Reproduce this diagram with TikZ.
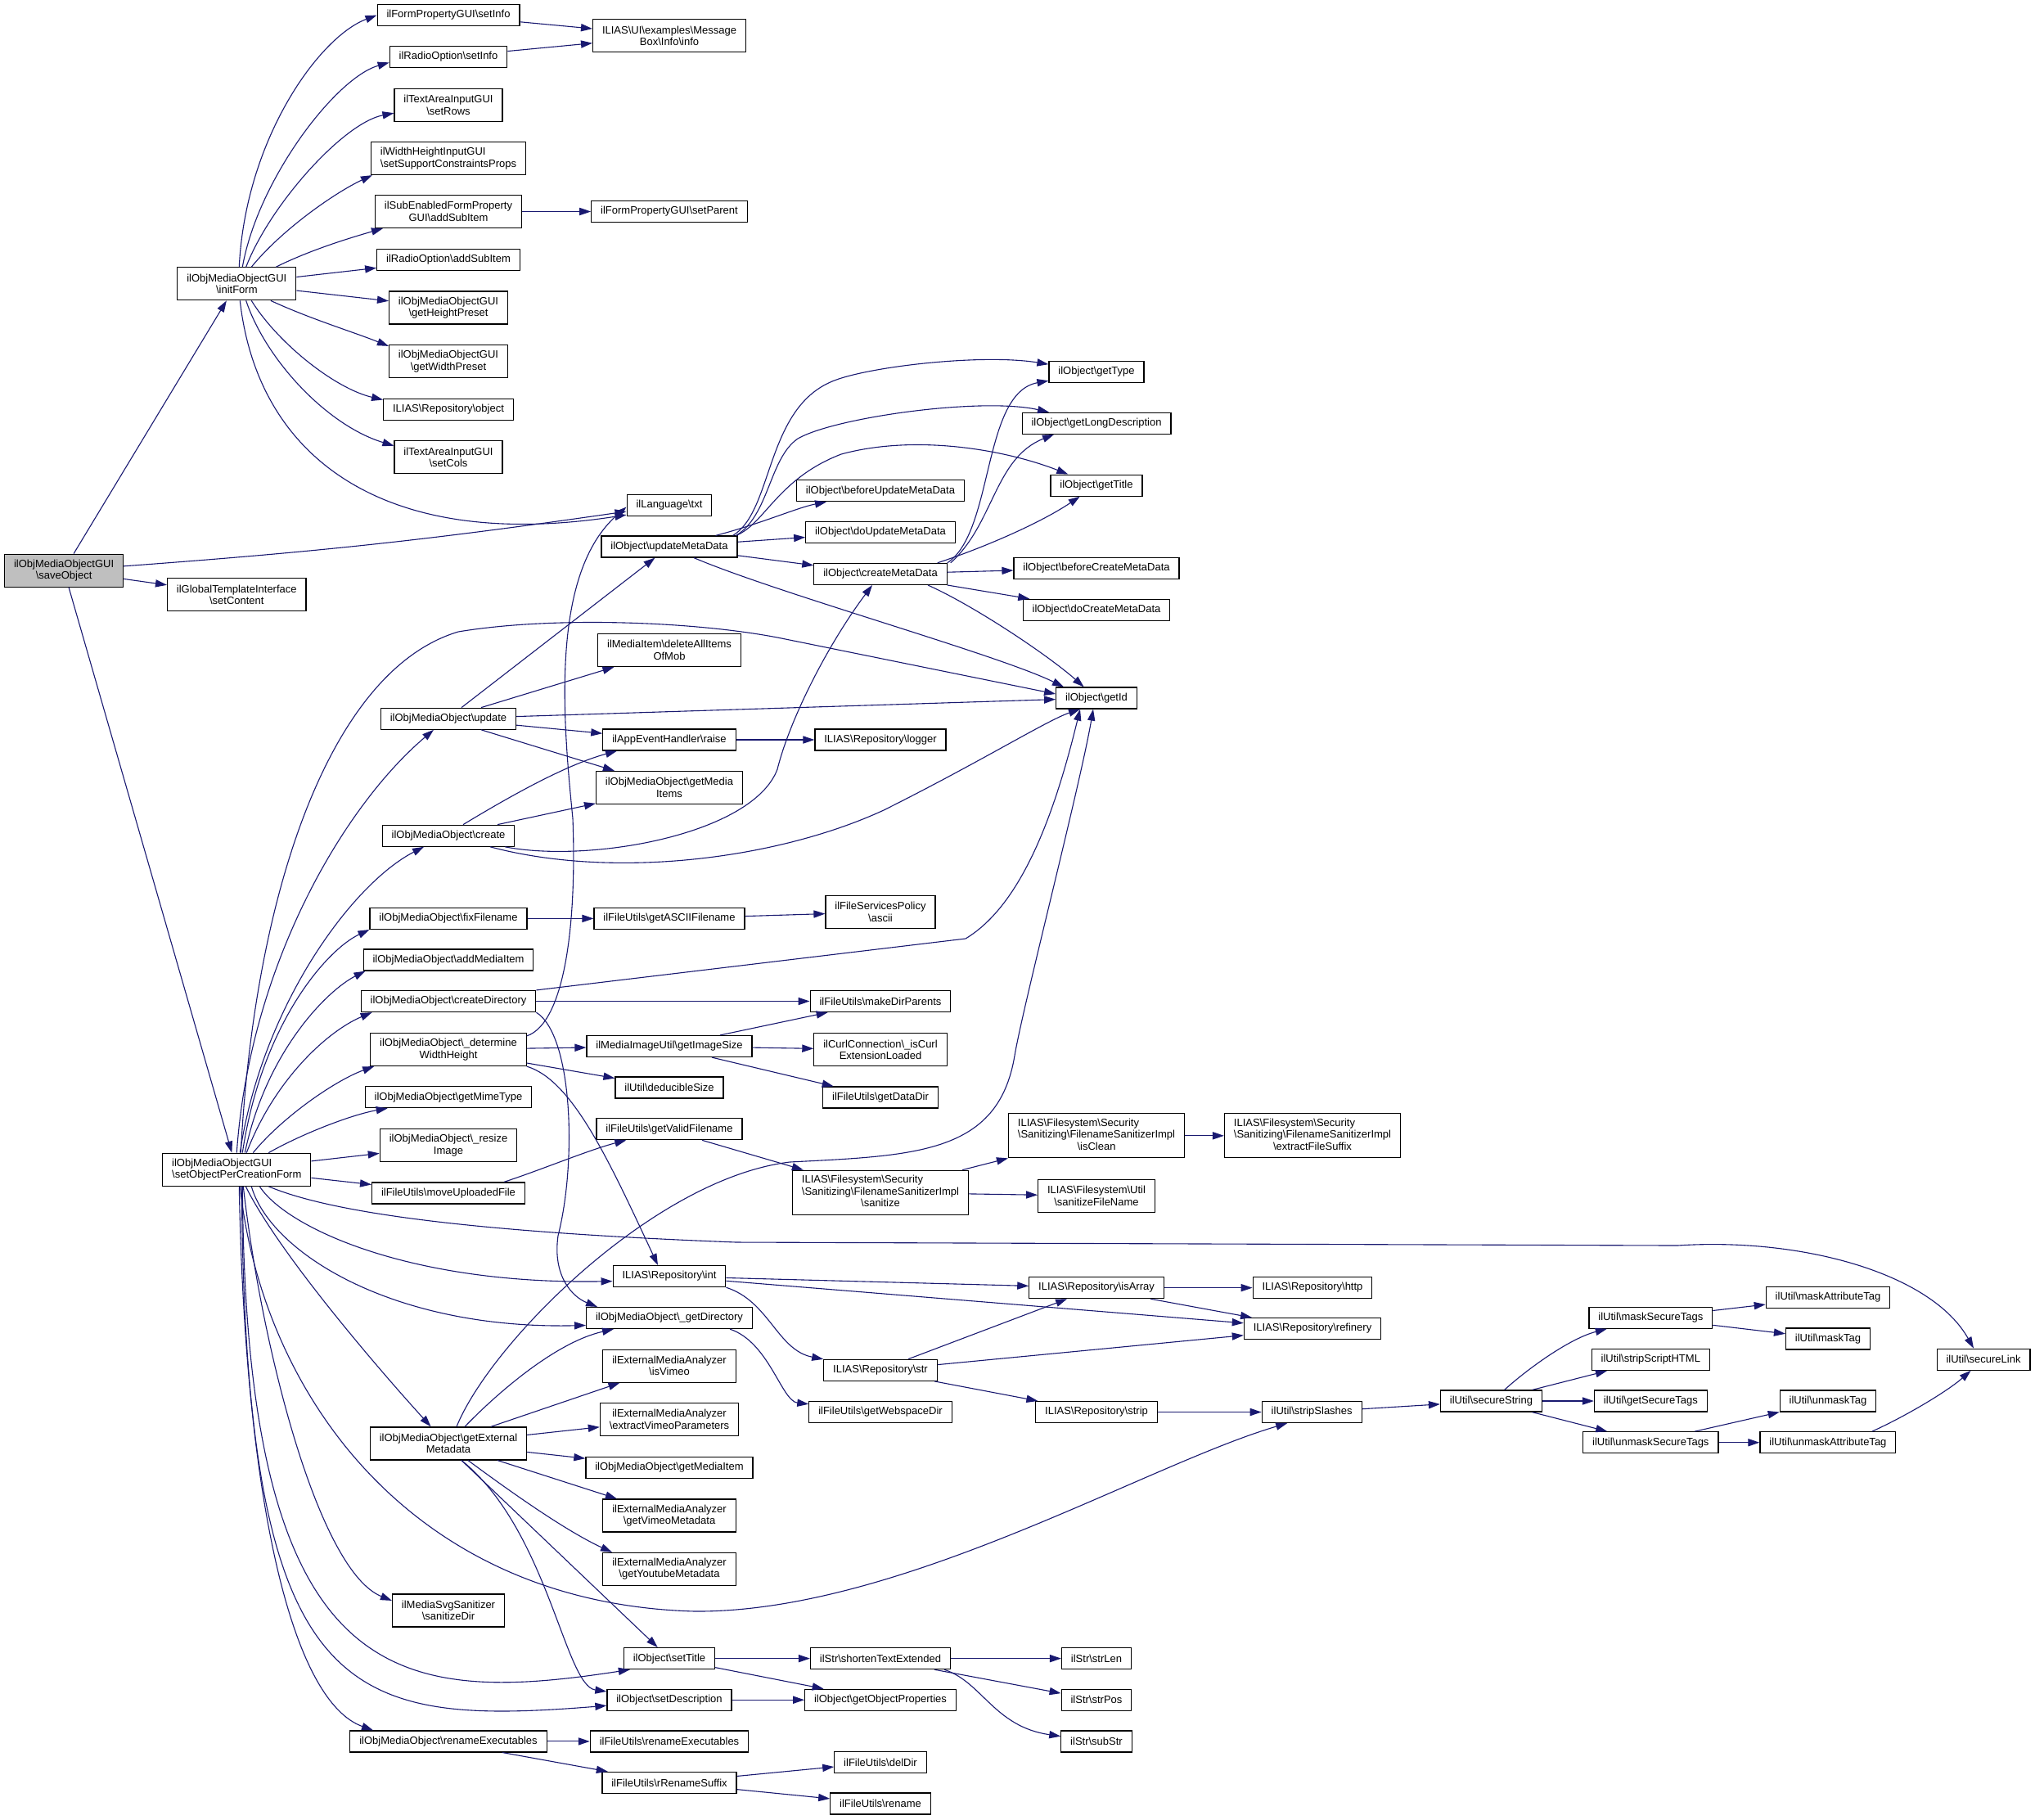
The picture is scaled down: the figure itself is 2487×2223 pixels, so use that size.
\documentclass[tikz,border=0pt]{standalone}
\usepackage{fontspec}
\setmainfont{Liberation Sans}
\usepackage{xcolor}
\usetikzlibrary{positioning}
\usetikzlibrary{arrows.meta}
\definecolor{edgeblue}{HTML}{191970}
\newcommand{\bsl}{\textbackslash}
\newcommand{\sanImpl}[1]{\begin{tabular}{@{}l@{}}ILIAS\bsl Filesystem\bsl Security\\\bsl Sanitizing\bsl FilenameSanitizerImpl\\\multicolumn{1}{@{}c@{}}{\bsl #1}\end{tabular}}

\begin{document}
\begin{tikzpicture}[x=0.5pt,y=-0.5pt,on grid,
  func/.style={draw=black,fill=white,line width=0.6pt,inner xsep=5.7pt,inner ysep=0pt,minimum height=13pt,align=center,font=\fontsize{6.5}{7.2}\selectfont},
  func2/.style={func,minimum height=20pt},
  func3/.style={func,minimum height=27pt},
  rootfunc/.style={fill=gray!50},
  calls/.style={->,color=edgeblue,line width=0.55pt},
  >={Triangle[length=7pt,width=4.6pt]}]
  \useasboundingbox (0,0) rectangle (2487,2223);

  \node[func2,rootfunc] (saveObj) at (78.1,697.1) {ilObjMediaObjectGUI\\\bsl saveObject};
  \node[func2] (initForm) at (289.3,346.8) {ilObjMediaObjectGUI\\\bsl initForm};
  \node[func2] (setContent) at (289.3,726.8) {ilGlobalTemplateInterface\\\bsl setContent};
  \node[func2,align=left] (perCreation) at (289.3,1429.2) {ilObjMediaObjectGUI\\\bsl setObjectPerCreationForm};

  \node[func] (setInfo) at (548,18.6) {ilFormPropertyGUI\bsl setInfo};
  \node[func] (radioSetInfo) at (548,69.4) {ilRadioOption\bsl setInfo};
  \node[func2] (setRows) at (548,128.2) {ilTextAreaInputGUI\\\bsl setRows};
  \node[func2,align=left] (setSupport) at (548,193.5) {ilWidthHeightInputGUI\\\bsl setSupportConstraintsProps};
  \node[func2] (subEnabled) at (548,258.5) {ilSubEnabledFormProperty\\GUI\bsl addSubItem};
  \node[func] (radioAddSub) at (548,317.4) {ilRadioOption\bsl addSubItem};
  \node[func2] (heightPreset) at (548,376) {ilObjMediaObjectGUI\\\bsl getHeightPreset};
  \node[func2] (widthPreset) at (548,441.5) {ilObjMediaObjectGUI\\\bsl getWidthPreset};
  \node[func] (repoObject) at (548,500.1) {ILIAS\bsl Repository\bsl object};
  \node[func2] (setCols) at (548,558.7) {ilTextAreaInputGUI\\\bsl setCols};
  \node[func] (update) at (548,878.2) {ilObjMediaObject\bsl update};
  \node[func] (create) at (548,1021.2) {ilObjMediaObject\bsl create};
  \node[func] (fixFilename) at (548,1122.4) {ilObjMediaObject\bsl fixFilename};
  \node[func] (addMediaItem) at (548,1173) {ilObjMediaObject\bsl addMediaItem};
  \node[func] (createDir) at (548,1223.5) {ilObjMediaObject\bsl createDirectory};
  \node[func2] (determine) at (548,1282.5) {ilObjMediaObject\bsl\_determine\\WidthHeight};
  \node[func] (mimeType) at (548,1340.7) {ilObjMediaObject\bsl getMimeType};
  \node[func2] (resize) at (548,1399.8) {ilObjMediaObject\bsl\_resize\\Image};
  \node[func] (moveUpload) at (548,1457.9) {ilFileUtils\bsl moveUploadedFile};
  \node[func2] (extMeta) at (548,1763.9) {ilObjMediaObject\bsl getExternal\\Metadata};
  \node[func2] (svgSanitize) at (548,1967.9) {ilMediaSvgSanitizer\\\bsl sanitizeDir};
  \node[func] (renameExec) at (548,2127.9) {ilObjMediaObject\bsl renameExecutables};

  \node[func2] (info) at (818,43.8) {ILIAS\bsl UI\bsl examples\bsl Message\\Box\bsl Info\bsl info};
  \node[func] (setParent) [right=135pt of subEnabled] {ilFormPropertyGUI\bsl setParent};
  \node[func] (txt) at (818,617.5) {ilLanguage\bsl txt};
  \node[func] (updateMeta) at (818,668) {ilObject\bsl updateMetaData};
  \node[func2] (deleteAll) at (818,794.5) {ilMediaItem\bsl deleteAllItems\\OfMob};
  \node[func] (raise) at (818,904) {ilAppEventHandler\bsl raise};
  \node[func2] (mediaItems) at (818,962.4) {ilObjMediaObject\bsl getMedia\\Items};
  \node[func] (asciiName) [right=135pt of fixFilename] {ilFileUtils\bsl getASCIIFilename};
  \node[func] (imageSize) at (818,1278.5) {ilMediaImageUtil\bsl getImageSize};
  \node[func] (deducible) at (818,1329) {ilUtil\bsl deducibleSize};
  \node[func] (validName) at (818,1379.7) {ilFileUtils\bsl getValidFilename};
  \node[func] (repoInt) at (818,1559.6) {ILIAS\bsl Repository\bsl int};
  \node[func] (getDir) at (818,1610.5) {ilObjMediaObject\bsl\_getDirectory};
  \node[func2] (isVimeo) at (818,1669.1) {ilExternalMediaAnalyzer\\\bsl isVimeo};
  \node[func2] (extractVimeo) at (818,1734.5) {ilExternalMediaAnalyzer\\\bsl extractVimeoParameters};
  \node[func] (mediaItem) at (818,1793.3) {ilObjMediaObject\bsl getMediaItem};
  \node[func2] (vimeoMeta) at (818,1852) {ilExternalMediaAnalyzer\\\bsl getVimeoMetadata};
  \node[func2] (youtubeMeta) at (818,1917.4) {ilExternalMediaAnalyzer\\\bsl getYoutubeMetadata};
  \node[func] (setTitle) at (818,2026.6) {ilObject\bsl setTitle};
  \node[func] (setDesc) at (818,2077.2) {ilObject\bsl setDescription};
  \node[func] (fuRenameExec) [right=135pt of renameExec] {ilFileUtils\bsl renameExecutables};
  \node[func] (renameSuffix) at (818,2178.4) {ilFileUtils\bsl rRenameSuffix};

  \node[func] (beforeUpdate) at (1076,599.8) {ilObject\bsl beforeUpdateMetaData};
  \node[func] (doUpdate) at (1076,650.2) {ilObject\bsl doUpdateMetaData};
  \node[func] (createMeta) at (1076,701.4) {ilObject\bsl createMetaData};
  \node[func] (logger) [right=129pt of raise] {ILIAS\bsl Repository\bsl logger};
  \node[func2] (ascii) at (1076,1114.5) {ilFileServicesPolicy\\\bsl ascii};
  \node[func] (makeDir) [right=264pt of createDir] {ilFileUtils\bsl makeDirParents};
  \node[func2] (isCurl) at (1076,1282.6) {ilCurlConnection\bsl\_isCurl\\ExtensionLoaded};
  \node[func] (dataDir) at (1076,1341) {ilFileUtils\bsl getDataDir};
  \node[func3] (sanitize) at (1076,1457.2) {\sanImpl{sanitize}};
  \node[func] (repoStr) at (1076,1674.3) {ILIAS\bsl Repository\bsl str};
  \node[func] (webspaceDir) at (1076,1725.5) {ilFileUtils\bsl getWebspaceDir};
  \node[func] (shorten) [right=129pt of setTitle] {ilStr\bsl shortenTextExtended};
  \node[func] (objProps) [right=129pt of setDesc] {ilObject\bsl getObjectProperties};
  \node[func] (delDir) at (1076,2153.5) {ilFileUtils\bsl delDir};
  \node[func] (fuRename) at (1076,2204) {ilFileUtils\bsl rename};

  \node[func] (getType) at (1340,454.6) {ilObject\bsl getType};
  \node[func] (longDesc) at (1340,517.3) {ilObject\bsl getLongDescription};
  \node[func] (getTitle) at (1340,593.1) {ilObject\bsl getTitle};
  \node[func] (beforeCreate) at (1340,694.3) {ilObject\bsl beforeCreateMetaData};
  \node[func] (doCreate) at (1340,745.3) {ilObject\bsl doCreateMetaData};
  \node[func] (getId) at (1340,853) {ilObject\bsl getId};
  \node[func3] (isClean) at (1340,1387.8) {\sanImpl{isClean}};
  \node[func2] (fsSanitizeName) at (1340,1461.3) {ILIAS\bsl Filesystem\bsl Util\\\bsl sanitizeFileName};
  \node[func] (isArray) at (1340,1573.6) {ILIAS\bsl Repository\bsl isArray};
  \node[func] (repoStrip) at (1340,1725.5) {ILIAS\bsl Repository\bsl strip};
  \node[func] (strLen) [right=132pt of shorten] {ilStr\bsl strLen};
  \node[func] (strPos) at (1340,2077.2) {ilStr\bsl strPos};
  \node[func] (subStr) at (1340,2127.9) {ilStr\bsl subStr};

  \node[func3] (extractSuffix) [right=132pt of isClean] {\sanImpl{extractFileSuffix}};
  \node[func] (http) [right=132pt of isArray] {ILIAS\bsl Repository\bsl http};
  \node[func] (refinery) at (1604,1623.6) {ILIAS\bsl Repository\bsl refinery};
  \node[func] (stripSlashes) [right=131.6pt of repoStrip] {ilUtil\bsl stripSlashes};
  \node[func] (secureString) at (1822.5,1712) {ilUtil\bsl secureString};
  \node[func] (maskSecure) at (2017.3,1610.3) {ilUtil\bsl maskSecureTags};
  \node[func] (stripScript) at (2017.3,1661.5) {ilUtil\bsl stripScriptHTML};
  \node[func] (getSecureTags) [right=97.4pt of secureString] {ilUtil\bsl getSecureTags};
  \node[func] (unmaskSecure) at (2017.3,1762.7) {ilUtil\bsl unmaskSecureTags};
  \node[func] (maskAttr) at (2234,1585.2) {ilUtil\bsl maskAttributeTag};
  \node[func] (maskTag) at (2234,1635.9) {ilUtil\bsl maskTag};
  \node[func] (unmaskTag) at (2234,1712) {ilUtil\bsl unmaskTag};
  \node[func] (unmaskAttr) [right=108.3pt of unmaskSecure] {ilUtil\bsl unmaskAttributeTag};
  \node[func] (secureLink) at (2424,1661.2) {ilUtil\bsl secureLink};

  \path[calls] ([xshift=6pt]saveObj.north) edge (initForm)
    (saveObj) edge[bend right=2] (txt) edge (setContent) edge (perCreation);

  \draw[calls] ([xshift=1.5pt]initForm.north) .. controls (300,170) and (390,45) .. (setInfo.west);
  \draw[calls] ([xshift=3.5pt]initForm.north) .. controls (315,220) and (410,95) .. ([yshift=-3.5pt]radioSetInfo.west);
  \draw[calls] ([xshift=5.7pt]initForm.north) .. controls (330,250) and (420,150) .. ([yshift=-5pt]setRows.west);
  \draw[calls] ([xshift=9pt]initForm.north) .. controls (345,280) and (410,235) .. ([xshift=1pt]setSupport.south west);
  \draw[calls] ([xshift=24pt]initForm.north) .. controls (380,305) and (430,290) .. ([xshift=5pt]subEnabled.south west);
  \path[calls] (initForm) edge (radioAddSub) edge (heightPreset);
  \draw[calls] ([xshift=20.8pt]initForm.south) .. controls (380,390) and (430,405) .. ([yshift=-1pt]widthPreset.north west);
  \draw[calls] ([xshift=9pt]initForm.south) .. controls (340,420) and (410,475) .. ([yshift=-1pt]repoObject.north west);
  \draw[calls] ([xshift=5.7pt]initForm.south) .. controls (325,440) and (400,520) .. ([yshift=-3.3pt]setCols.north west);
  \draw[calls] ([xshift=2pt]initForm.south) .. controls (315,560) and (470,675) .. ([yshift=1pt]txt.south west);
  \path[calls] (setInfo) edge (info) (radioSetInfo) edge (info) (subEnabled) edge (setParent);

  \draw[calls] (perCreation.north) .. controls (305,1180) and (420,985) .. ([xshift=-9pt]update.south);
  \draw[calls] ([xshift=2pt]perCreation.north) .. controls (320,1230) and (430,1080) .. ([xshift=-15pt]create.south);
  \draw[calls] ([xshift=2.5pt]perCreation.north) .. controls (310,1100) and (400,820) .. (560,772) .. controls (680,752) and (860,760) .. (960,781) -- ([yshift=2.5pt]getId.west);
  \draw[calls] ([xshift=3.5pt]perCreation.north) .. controls (320,1250) and (400,1160) .. (fixFilename.south west);
  \draw[calls] ([xshift=5pt]perCreation.north) .. controls (325,1285) and (400,1210) .. ([xshift=1.5pt]addMediaItem.south west);
  \draw[calls] ([xshift=6pt]perCreation.north) .. controls (335,1320) and (400,1260) .. ([xshift=7pt]createDir.south west);
  \draw[calls] ([xshift=10pt]perCreation.north) .. controls (345,1365) and (410,1320) .. ([xshift=2.5pt]determine.south west);
  \draw[calls] ([xshift=19.5pt]perCreation.north) .. controls (370,1385) and (430,1362) .. ([xshift=14pt]mimeType.south west);
  \path[calls] (perCreation) edge (resize) edge (moveUpload);
  \draw[calls] ([xshift=19.5pt]perCreation.south) .. controls (400,1480) and (560,1505) .. (900,1518) -- (2050,1522) .. controls (2200,1512) and (2360,1555) .. ([xshift=-6pt]secureLink.north);
  \draw[calls] ([xshift=14pt]perCreation.south) .. controls (350,1500) and (500,1570) .. ([yshift=-3pt]repoInt.west);
  \draw[calls] ([xshift=9pt]perCreation.south) .. controls (330,1530) and (480,1625) .. ([yshift=-4.5pt]getDir.west);
  \draw[calls] ([xshift=5.5pt]perCreation.south) .. controls (340,1530) and (460,1670) .. ([xshift=-10.7pt]extMeta.north);
  \draw[calls] ([xshift=2pt]perCreation.south) .. controls (320,1700) and (500,1960) .. (850,1969) .. controls (1100,1970) and (1400,1790) .. ([xshift=-15pt]stripSlashes.south);
  \draw[calls] ([xshift=4pt]perCreation.south) .. controls (320,1650) and (390,1920) .. ([yshift=6pt]svgSanitize.west);
  \draw[calls] ([xshift=3.5pt]perCreation.south) .. controls (300,2060) and (480,2085) .. ([xshift=4pt]setTitle.south west);
  \draw[calls] ([xshift=3pt]perCreation.south) .. controls (300,2080) and (420,2110) .. ([yshift=-3.5pt]setDesc.west);
  \draw[calls] ([xshift=1.5pt]perCreation.south) .. controls (300,1850) and (360,2080) .. ([xshift=-46pt]renameExec.north);

  \path[calls] ([xshift=8pt]update.north) edge (updateMeta)
    ([xshift=20pt]update.north) edge (deleteAll)
    (update) edge (getId) edge (raise)
    ([xshift=20pt]update.south) edge (mediaItems);

  \draw[calls] ([xshift=9pt]create.north) .. controls (620,975) and (690,935) .. ([xshift=-32pt]raise.south);
  \path[calls] ([xshift=30pt]create.north) edge (mediaItems);
  \draw[calls] (create) .. controls (720,1055) and (920,1020) .. (950,940) .. controls (965,880) and (1010,790) .. ([xshift=-5pt]createMeta.south);
  \draw[calls] (create) .. controls (750,1075) and (950,1050) .. (1080,990) .. controls (1200,930) and (1280,880) .. ([xshift=-10pt]getId.south);

  \draw[calls] (createDir.north east) -- (1180,1147) .. controls (1250,1105) and (1290,990) .. ([xshift=-10pt]getId.south);
  \path[calls] (createDir) edge (makeDir);
  \draw[calls] (createDir.south east) .. controls (700,1265) and (705,1420) .. (682,1510) .. controls (675,1560) and (700,1585) .. ([xshift=7pt]getDir.north west);

  \draw[calls] ([yshift=-2pt]determine.north east) .. controls (690,1250) and (705,1130) .. (700,1000) .. controls (688,880) and (672,700) .. ([yshift=-1pt]txt.west);
  \path[calls] (determine) edge (imageSize) edge (deducible);
  \draw[calls] (determine.south east) .. controls (700,1320) and (745,1420) .. ([xshift=-7pt]repoInt.north);

  \draw[calls] ([xshift=5pt]extMeta.north) .. controls (600,1640) and (800,1440) .. (965,1420) .. controls (1120,1412) and (1220,1410) .. (1240,1290) .. controls (1250,1230) and (1320,960) .. ([xshift=-2pt]getId.south);
  \draw[calls] ([xshift=10pt]extMeta.north) .. controls (610,1700) and (680,1640) .. ([xshift=-34pt]getDir.south);
  \path[calls] ([xshift=26pt]extMeta.north) edge (isVimeo)
    (extMeta) edge (extractVimeo) edge (mediaItem)
    ([xshift=30pt]extMeta.south) edge (vimeoMeta)
    ([xshift=8pt]extMeta.south) edge (setTitle);
  \draw[calls] ([xshift=12pt]extMeta.south) .. controls (620,1820) and (690,1870) .. ([xshift=-35pt]youtubeMeta.north);
  \draw[calls] ([xshift=8pt]extMeta.south) .. controls (670,1870) and (690,2060) .. (setDesc);

  \draw[calls] ([xshift=-3pt]updateMeta.north east) .. controls (945,625) and (935,500) .. (1017,466) .. controls (1060,448) and (1200,432) .. (getType);
  \draw[calls] ([xshift=-1pt]updateMeta.north east) .. controls (940,630) and (940,560) .. (975,536) .. controls (1020,510) and (1200,485) .. ([xshift=-29pt]longDesc.north);
  \draw[calls] ([xshift=-1pt]updateMeta.north east) .. controls (935,640) and (950,585) .. (1028,555) .. controls (1120,530) and (1230,550) .. (getTitle);
  \draw[calls] ([xshift=-13.5pt]updateMeta.north east) .. controls (930,640) and (975,620) .. ([xshift=-33pt]beforeUpdate.south);
  \path[calls] (updateMeta) edge (doUpdate) edge (createMeta);
  \draw[calls] ([xshift=15pt]updateMeta.south) .. controls (950,725) and (1220,800) .. ([xshift=-20pt]getId.north);

  \draw[calls] (createMeta.north east) .. controls (1215,650) and (1200,480) .. (getType);
  \draw[calls] ([xshift=2pt]createMeta.north east) .. controls (1215,640) and (1215,560) .. ([xshift=-26pt]longDesc.south);
  \draw[calls] ([xshift=-6pt]createMeta.north east) .. controls (1200,670) and (1270,640) .. (getTitle);
  \path[calls] (createMeta) edge (beforeCreate) edge (doCreate);
  \draw[calls] ([xshift=29pt]createMeta.south) .. controls (1190,740) and (1280,800) .. (getId);

  \path[calls] (raise) edge (logger)
    (fixFilename) edge (asciiName)
    (asciiName) edge (ascii)
    ([xshift=31pt]imageSize.north) edge (makeDir)
    (imageSize) edge (isCurl)
    ([xshift=26pt]imageSize.south) edge (dataDir)
    ([xshift=20pt]validName.south) edge (sanitize)
    ([xshift=-4pt]sanitize.north east) edge (isClean)
    (sanitize) edge (fsSanitizeName)
    (isClean) edge (extractSuffix);
  \draw[calls] ([xshift=34pt]moveUpload.north) .. controls (660,1430) and (720,1405) .. (validName);

  \path[calls] (repoInt) edge (isArray) edge (refinery)
    ([xshift=17pt]repoStr.north) edge (isArray)
    (repoStr) edge (refinery)
    ([xshift=33pt]repoStr.south) edge (repoStrip)
    (isArray) edge (http)
    ([xshift=33pt]isArray.south) edge (refinery)
    (repoStrip) edge (stripSlashes)
    (stripSlashes) edge (secureString);
  \draw[calls] (repoInt.south east) .. controls (940,1590) and (950,1650) .. (repoStr);
  \draw[calls] ([xshift=-14pt]getDir.south east) .. controls (940,1640) and (955,1712) .. (webspaceDir);

  \draw[calls] ([xshift=8pt]secureString.north) .. controls (1870,1670) and (1920,1635) .. (maskSecure);
  \path[calls] ([xshift=25pt]secureString.north) edge (stripScript)
    (secureString) edge (getSecureTags)
    ([xshift=25pt]secureString.south) edge (unmaskSecure)
    (maskSecure) edge (maskAttr) edge (maskTag)
    ([xshift=27pt]unmaskSecure.north) edge (unmaskTag)
    (unmaskSecure) edge (unmaskAttr);
  \draw[calls] ([xshift=27pt]unmaskAttr.north) .. controls (2330,1730) and (2380,1700) .. (secureLink);

  \path[calls] (setTitle) edge (shorten) edge (objProps)
    (setDesc) edge (objProps)
    (shorten) edge (strLen)
    ([xshift=33pt]shorten.south) edge (strPos)
    (renameExec) edge (fuRenameExec)
    ([xshift=33pt]renameExec.south) edge (renameSuffix)
    (renameSuffix) edge (delDir) edge (fuRename);
  \draw[calls] ([xshift=-4pt]shorten.south east) .. controls (1200,2055) and (1215,2110) .. (subStr);
\end{tikzpicture}
\end{document}
